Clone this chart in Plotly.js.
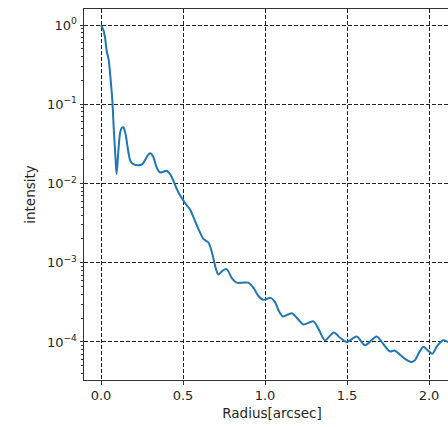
<!DOCTYPE html>
<html>
<head>
<meta charset="utf-8">
<script src="https://cdn.plot.ly/plotly-3.0.1.min.js"></script>
<style>
html,body{margin:0;padding:0;overflow:hidden;background:#fff;}
#chart{width:472px;height:427px;}
</style>
</head>
<body>
<div id="chart"></div>
<script>
const radius = [0.0, 0.014, 0.024, 0.034, 0.047, 0.061, 0.069, 0.079, 0.089, 0.095, 0.106, 0.116, 0.125, 0.136, 0.15, 0.165, 0.18, 0.2, 0.23, 0.25, 0.27, 0.29, 0.303, 0.32, 0.34, 0.36, 0.38, 0.40, 0.42, 0.44, 0.46, 0.48, 0.50, 0.52, 0.543, 0.57, 0.60, 0.624, 0.655, 0.68, 0.70, 0.715, 0.74, 0.766, 0.80, 0.827, 0.86, 0.898, 0.93, 0.96, 0.99, 1.035, 1.06, 1.087, 1.11, 1.163, 1.20, 1.234, 1.295, 1.33, 1.366, 1.42, 1.46, 1.498, 1.559, 1.61, 1.68, 1.72, 1.762, 1.79, 1.823, 1.86, 1.894, 1.915, 1.94, 1.966, 1.985, 2.0, 2.02, 2.05, 2.088, 2.116, 2.15, 2.19];
const intensity = [1.0, 0.87, 0.71, 0.48, 0.36, 0.18, 0.112, 0.044, 0.020, 0.0132, 0.026, 0.043, 0.050, 0.0513, 0.0417, 0.0263, 0.0191, 0.0174, 0.0170, 0.0174, 0.0200, 0.0234, 0.0240, 0.0214, 0.0158, 0.0138, 0.0141, 0.0145, 0.0132, 0.0110, 0.0087, 0.0072, 0.0062, 0.0054, 0.0047, 0.0035, 0.0025, 0.0020, 0.0018, 0.00126, 0.00085, 0.00071, 0.00079, 0.00083, 0.00063, 0.00056, 0.00056, 0.00056, 0.00048, 0.00038, 0.00034, 0.00036, 0.00032, 0.00024, 0.00021, 0.00023, 0.000195, 0.000166, 0.000182, 0.000141, 0.000105, 0.000132, 0.000112, 0.0001, 0.000117, 0.000091, 0.000117, 0.000095, 0.000076, 0.000078, 0.000069, 0.000060, 0.000056, 0.000059, 0.000074, 0.000087, 0.000081, 0.000076, 0.000071, 0.000089, 0.000105, 0.0001, 0.0001, 0.0001];
const xTickVals = [0.0, 0.5, 1.0, 1.5, 2.0];
const xTickText = ["0.0", "0.5", "1.0", "1.5", "2.0"];
const yTickVals = [1, 0.1, 0.01, 0.001, 0.0001];
const yTickText = ["10<sup>0</sup>", "10<sup>−1</sup>", "10<sup>−2</sup>", "10<sup>−3</sup>", "10<sup>−4</sup>"];

const font = {family: "DejaVu Sans, sans-serif", size: 13, color: "#262626"};
const titleFont = {family: "DejaVu Sans, sans-serif", size: 13.5, color: "#262626"};
const trace = {
  x: radius, y: intensity, type: "scatter", mode: "lines",
  line: {color: "#1f77b4", width: 2, shape: "spline", smoothing: 0.8},
  hoverinfo: "skip"
};
const layout = {
  width: 472, height: 427,
  margin: {l: 84, r: 12, t: 9, b: 47},
  paper_bgcolor: "#fff", plot_bgcolor: "#fff",
  showlegend: false,
  font: font,
  xaxis: {
    range: [-0.1037, 2.189],
    tickvals: xTickVals, ticktext: xTickText,
    ticks: "outside", ticklen: 3.5, tickwidth: 1, tickcolor: "#333",
    showline: true, linecolor: "#333", linewidth: 1, mirror: true,
    showgrid: true, gridcolor: "#222", gridwidth: 1, griddash: "4px,2px",
    zeroline: false,
    title: {text: "Radius[arcsec]", font: titleFont, standoff: 6},
    tickfont: font
  },
  yaxis: {
    type: "log",
    range: [-4.48, 0.202],
    tickvals: yTickVals, ticktext: yTickText,
    ticks: "outside", ticklen: 3.5, tickwidth: 1, tickcolor: "#333",
    minor: {ticks: "outside", ticklen: 2, tickcolor: "#333", showgrid: false, dtick: "D1"},
    showline: true, linecolor: "#333", linewidth: 1, mirror: true,
    showgrid: true, gridcolor: "#222", gridwidth: 1, griddash: "4px,2px",
    zeroline: false,
    title: {text: "intensity", font: titleFont, standoff: 8},
    tickfont: font
  }
};
Plotly.newPlot("chart", [trace], layout, {staticPlot: true, displayModeBar: false});
</script>
</body>
</html>
